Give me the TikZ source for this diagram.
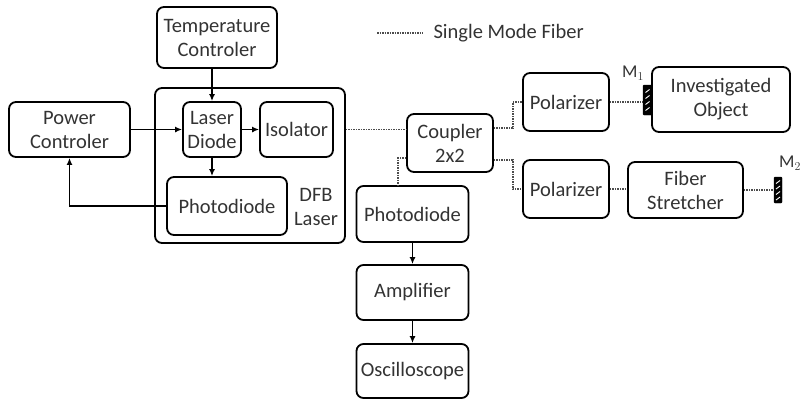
\documentclass[tikz,border=0pt]{standalone}
\usepackage{fontspec}
\setmainfont{Carlito}
\usetikzlibrary{arrows.meta}

\begin{document}
\begin{tikzpicture}[> = {Latex[length = 7pt, width = 6pt]}, x = 1pt, y = -1pt,
	block/.style = {draw, line width = 1.8pt, rounded corners = 7pt, align = center,
		text = black!80, font = \fontsize{20.5}{24}\selectfont, inner sep = 0pt},
	fiber/.style = {densely dotted, line width = 1.5pt, black!70},
	link/.style = {->, line width = 1.9pt},
	mirror/.style = {fill = black, draw = black, inner sep = 0pt, rounded corners = 1pt}]

	\useasboundingbox (0, 0) rectangle (801, 400);

	% Legend

	\coordinate (legA) at (377, 33);
	\coordinate (legB) at (423, 33);
	\draw [fiber] (legA) -- (legB);
	\node [anchor = west, text = black!80, font = \fontsize{20.5}{24}\selectfont] (legend) at (430, 33) {Single Mode Fiber};

	% DFB laser with its controllers

	\node [block, minimum width = 190pt, minimum height = 155pt] (dfb) at (250, 165.5) {};
	\node [block, draw = none, anchor = center] (dfbtext) at (316, 207) {DFB\\Laser};

	\node [block, minimum width = 120pt, minimum height = 61pt] (temp) at (217, 37.5) {Temperature\\Controler};
	\node [block, minimum width = 121pt, minimum height = 55pt] (power) at (69.5, 129.5) {Power\\Controler};
	\node [block, minimum width = 58pt, minimum height = 55pt] (ld) at (212, 129.5) {Laser\\Diode};
	\node [block, minimum width = 73pt, minimum height = 55pt] (iso) at (296.5, 129.5) {Isolator};
	\node [block, minimum width = 120pt, minimum height = 58pt] (pd1) at (227, 206) {Photodiode};

	\draw [link] (temp.south -| ld.north) -- (ld.north);
	\draw [link] (power.east |- ld.west) -- (ld.west);
	\draw [link] (ld.east) -- (iso.west);
	\draw [link] (ld.south) -- (ld.south |- pd1.north);
	\draw [link] (pd1.west) -| (power.south);

	% Coupler and detection

	\node [block, minimum width = 86pt, minimum height = 58pt] (coupler) at (450, 143) {Coupler\\2x2};
	\node [block, minimum width = 112pt, minimum height = 56pt] (pd2) at (412.5, 214) {Photodiode};
	\node [block, minimum width = 112pt, minimum height = 55pt] (amp) at (412.5, 292.5) {Amplifier};
	\node [block, minimum width = 112pt, minimum height = 54pt] (osc) at (412.5, 371) {Oscilloscope};

	\draw [link] (pd2) -- (amp);
	\draw [link] (amp) -- (osc);

	\draw [fiber] (dfb.east |- iso.east) -- (coupler.west |- iso.east);
	\draw [fiber] ([yshift = -15pt] coupler.west) -| ([xshift = -14.5pt] pd2.north);

	% Interferometer arms

	\node [block, minimum width = 86pt, minimum height = 58pt] (pol1) at (566, 102) {Polarizer};
	\node [block, minimum width = 86pt, minimum height = 58pt] (pol2) at (566, 189) {Polarizer};
	\node [block, minimum width = 138pt, minimum height = 65pt] (obj) at (721, 99.5) {Investigated\\Object};
	\node [block, minimum width = 115pt, minimum height = 56pt] (str) at (685.5, 190) {Fiber\\Stretcher};

	\draw [fiber] ([yshift = 15pt] coupler.east) -- ++(19, 0) |- (pol1.west);
	\draw [fiber] ([yshift = -17pt] coupler.east) -- ++(19, 0) |- (pol2.west);
	\draw [fiber] (pol2.east) -- (str.west |- pol2.east);

	% Mirrors

	\node [mirror, minimum width = 9pt, minimum height = 30pt] (m1) at (647.5, 100) {};
	\node [mirror, minimum width = 8pt, minimum height = 26pt] (m2) at (778, 190) {};

	\foreach \m/\k in {m1/-9, m1/-3, m1/3, m1/9, m2/-8, m2/-2.5, m2/3, m2/8.5}
		\draw [white, line width = 0.9pt] ([shift = {(-2, \k + 1.5)}] \m.center) -- ([shift = {(2, \k - 1.5)}] \m.center);

	\draw [fiber] (pol1.east) -- (m1.west |- pol1.east);
	\draw [fiber] (str.east) -- (m2.west |- str.east);

	\node [text = black!80, font = \fontsize{18}{20}\selectfont] (m1label) at (633, 73) {M$_1$};
	\node [anchor = west, text = black!80, font = \fontsize{18}{20}\selectfont, inner sep = 0pt] (m2label) at (779, 163) {M$_2$};

\end{tikzpicture}
\end{document}
